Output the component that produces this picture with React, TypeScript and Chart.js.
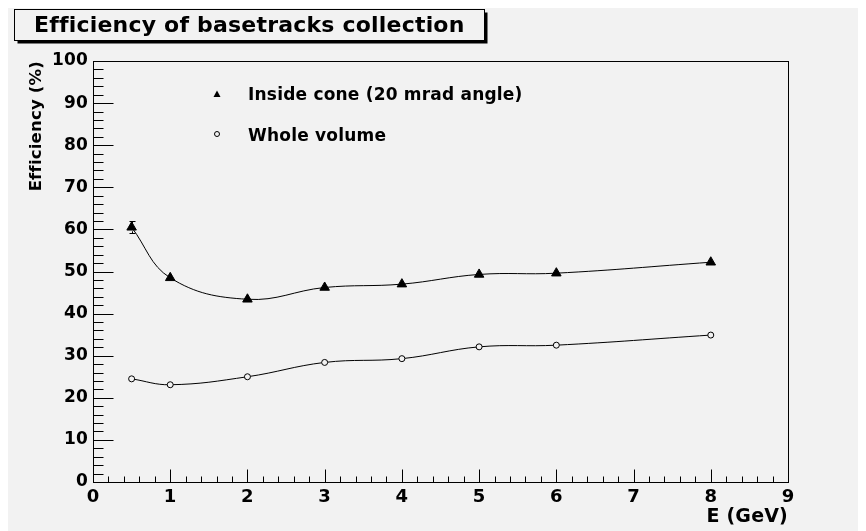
import React, { useEffect, useRef } from "react";
import { Chart, registerables } from "chart.js";

Chart.register(...registerables);

// ---- data ----
const energies = [0.5, 1, 2, 3, 4, 5, 6, 8];
const insideCone = [60.5, 48.5, 43.4, 46.2, 47.0, 49.3, 49.6, 52.2];
const insideConeErr = [1.4, 0.4, 0.4, 0.4, 0.4, 0.4, 0.4, 0.4];
const wholeVolume = [24.5, 23.1, 25.0, 28.4, 29.3, 32.1, 32.5, 34.9];
const wholeVolumeErr = [0.3, 0.3, 0.3, 0.3, 0.3, 0.3, 0.3, 0.3];
const seriesLabels = ["Inside cone (20 mrad angle)", "Whole volume"];
const chartTitle = "Efficiency of basetracks collection";
const xTitle = "E (GeV)";
const yTitle = "Efficiency (%)";
const xRange = [0, 9];
const yRange = [0, 100];
const xMajorStep = 1;
const xMinorStep = 0.2;
const yMajorStep = 10;
const yMinorStep = 2;

const FONT = "'DejaVu Sans', 'Liberation Sans', Arial, sans-serif";
const BG = "#f2f2f2";
const W = 858;
const H = 523;

const rootPlugin = {
  id: "rootStyle",
  beforeDraw(chart: any) {
    const ctx = chart.ctx;
    // non-zero spacing disables the fi ligature
    (ctx as any).letterSpacing = "0.2px";
    ctx.save();
    ctx.fillStyle = BG;
    ctx.fillRect(0, 0, chart.width, chart.height);
    ctx.restore();
  },
  afterDatasetsDraw(chart: any) {
    const ctx = chart.ctx;
    const { left, right, top, bottom } = chart.chartArea;
    const xs = chart.scales.x;
    const ys = chart.scales.y;
    ctx.save();
    // error bars
    const errs = [insideConeErr, wholeVolumeErr];
    const markerHalf = [4, 3.5];
    ctx.strokeStyle = "#000";
    ctx.lineWidth = 1;
    chart.data.datasets.forEach((ds: any, di: number) => {
      ds.data.forEach((p: any, i: number) => {
        const e = errs[di][i];
        const px = Math.round(xs.getPixelForValue(p.x)) + 0.5;
        const py = ys.getPixelForValue(p.y);
        const yHi = ys.getPixelForValue(p.y + e);
        const yLo = ys.getPixelForValue(p.y - e);
        if (py - yHi > markerHalf[di] + 1) {
          ctx.beginPath();
          ctx.moveTo(px, py - markerHalf[di]);
          ctx.lineTo(px, yHi);
          ctx.moveTo(px - 3, Math.round(yHi) + 0.5);
          ctx.lineTo(px + 3, Math.round(yHi) + 0.5);
          ctx.stroke();
        }
        if (yLo - py > markerHalf[di] + 1) {
          ctx.beginPath();
          ctx.moveTo(px, py + markerHalf[di]);
          ctx.lineTo(px, yLo);
          ctx.moveTo(px - 3, Math.round(yLo) + 0.5);
          ctx.lineTo(px + 3, Math.round(yLo) + 0.5);
          ctx.stroke();
        }
      });
    });

    // frame
    const L = Math.round(left) + 0.5;
    const R = Math.round(right) + 0.5;
    const T = Math.round(top) + 0.5;
    const B = Math.round(bottom) + 0.5;
    ctx.strokeStyle = "#000";
    ctx.lineWidth = 1;
    ctx.strokeRect(L, T, R - L, B - T);

    // y ticks (inside, pointing right)
    ctx.beginPath();
    for (let v = yRange[0]; v <= yRange[1] + 1e-9; v += yMinorStep) {
      const isMajor = Math.abs(v / yMajorStep - Math.round(v / yMajorStep)) < 1e-6;
      const py = Math.round(ys.getPixelForValue(v)) + 0.5;
      ctx.moveTo(L, py);
      ctx.lineTo(L + (isMajor ? 20 : 10), py);
    }
    // x ticks (inside, pointing up)
    for (let v = xRange[0]; v <= xRange[1] + 1e-9; v += xMinorStep) {
      const isMajor = Math.abs(v / xMajorStep - Math.round(v / xMajorStep)) < 1e-6;
      const px = Math.round(xs.getPixelForValue(v)) + 0.5;
      ctx.moveTo(px, B);
      ctx.lineTo(px, B - (isMajor ? 13 : 6));
    }
    ctx.stroke();

    // legend
    const legX = 209;
    const legY = [86, 126];
    const textX = 240;
    ctx.fillStyle = "#000";
    ctx.beginPath();
    ctx.moveTo(legX, legY[0] - 3.5);
    ctx.lineTo(legX + 3.5, legY[0] + 3);
    ctx.lineTo(legX - 3.5, legY[0] + 3);
    ctx.closePath();
    ctx.fill();
    ctx.beginPath();
    ctx.arc(legX, legY[1], 2.5, 0, Math.PI * 2);
    ctx.lineWidth = 1;
    ctx.stroke();
    ctx.font = `bold 17px ${FONT}`;
    ctx.textAlign = "left";
    ctx.textBaseline = "middle";
    ctx.fillText(seriesLabels[0], textX, legY[0] + 2);
    ctx.fillText(seriesLabels[1], textX, legY[1] + 3);

    // title box with shadow
    const bx = 6.5, by = 1.5, bw = 470, bh = 31;
    ctx.fillStyle = "#000";
    ctx.fillRect(bx + 3, by + 3, bw, bh);
    ctx.fillStyle = BG;
    ctx.fillRect(bx, by, bw, bh);
    ctx.strokeStyle = "#000";
    ctx.strokeRect(bx, by, bw, bh);
    ctx.fillStyle = "#000";
    ctx.font = `bold 22px ${FONT}`;
    ctx.textBaseline = "middle";
    ctx.fillText(chartTitle, 26, by + bh / 2 + 1);
    ctx.restore();
  },
};

export default function App() {
  const ref = useRef<HTMLCanvasElement | null>(null);
  useEffect(() => {
    if (!ref.current) return;
    const chart = new Chart(ref.current, {
      type: "scatter",
      data: {
        datasets: [
          {
            label: seriesLabels[0],
            data: energies.map((x, i) => ({ x, y: insideCone[i] })),
            showLine: true,
            tension: 0.4,
            borderColor: "#000",
            borderWidth: 1,
            pointStyle: "triangle",
            pointRadius: 5.5,
            pointBackgroundColor: "#000",
            pointBorderColor: "#000",
            pointBorderWidth: 1,
          },
          {
            label: seriesLabels[1],
            data: energies.map((x, i) => ({ x, y: wholeVolume[i] })),
            showLine: true,
            tension: 0.4,
            borderColor: "#000",
            borderWidth: 1,
            pointStyle: "circle",
            pointRadius: 3,
            pointBackgroundColor: BG,
            pointBorderColor: "#000",
            pointBorderWidth: 1,
          },
        ],
      },
      options: {
        animation: false,
        responsive: false,
        devicePixelRatio: 1,
        layout: { padding: { top: 53, right: 78, left: 0, bottom: 0 } },
        plugins: {
          legend: { display: false },
          tooltip: { enabled: false },
          title: { display: false },
        },
        scales: {
          x: {
            type: "linear",
            min: xRange[0],
            max: xRange[1],
            afterFit: (s: any) => {
              s.height = 49;
            },
            ticks: {
              stepSize: xMajorStep,
              color: "#000",
              padding: 5,
              font: { family: FONT, size: 18, weight: "bold" },
              maxRotation: 0,
              autoSkip: false,
            },
            grid: { display: false, drawTicks: false },
            border: { display: false },
            title: {
              display: true,
              text: xTitle,
              align: "end",
              color: "#000",
              font: { family: FONT, size: 19, weight: "bold" },
              padding: { top: 0, bottom: 3 },
            },
          },
          y: {
            type: "linear",
            min: yRange[0],
            max: yRange[1],
            afterFit: (s: any) => {
              s.width = 85;
            },
            ticks: {
              stepSize: yMajorStep,
              color: "#000",
              padding: 5,
              font: { family: FONT, size: 17, weight: "bold" },
              autoSkip: false,
            },
            grid: { display: false, drawTicks: false },
            border: { display: false },
            title: {
              display: true,
              text: yTitle,
              align: "end",
              color: "#000",
              font: { family: FONT, size: 16.5, weight: "bold" },
              padding: { top: 19, bottom: 0 },
            },
          },
        },
      },
      plugins: [rootPlugin],
    } as any);
    return () => chart.destroy();
  }, []);
  return (
    <div style={{ width: W, height: H }}>
      <canvas ref={ref} width={W} height={H} style={{ display: "block", width: W, height: H }} />
    </div>
  );
}
